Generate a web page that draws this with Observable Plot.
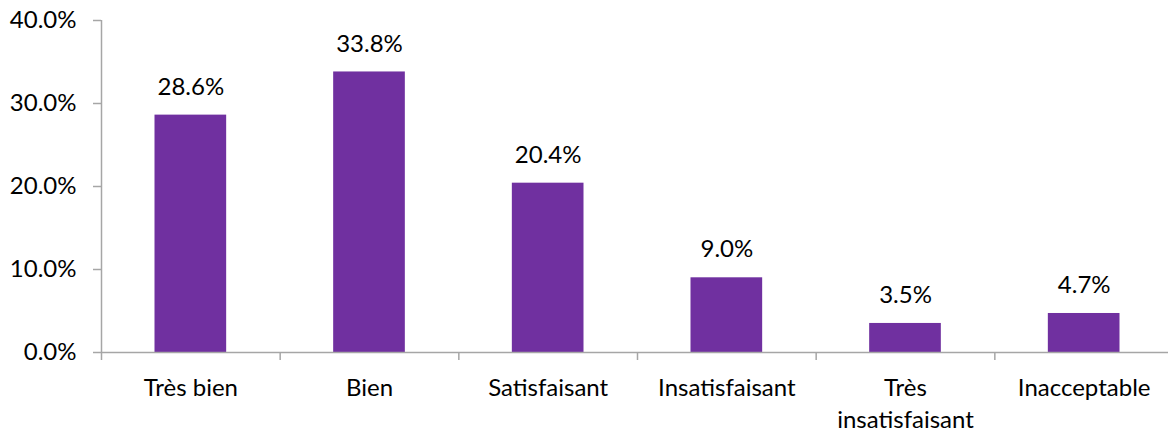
<!DOCTYPE html>
<html>
<head>
<meta charset="utf-8">
<script src="https://cdn.jsdelivr.net/npm/d3@7"></script>
<script src="https://cdn.jsdelivr.net/npm/@observablehq/plot@0.6"></script>
<style>
  html, body { margin: 0; padding: 0; background: #fff; overflow: hidden; }
</style>
</head>
<body>
<div id="chart"></div>
<script>
const categories = ["Très bien", "Bien", "Satisfaisant", "Insatisfaisant", "Très\ninsatisfaisant", "Inacceptable"];
const values = [0.286, 0.338, 0.204, 0.090, 0.035, 0.047];
const yTicks = [0, 0.1, 0.2, 0.3, 0.4];

const data = categories.map((c, i) => ({ category: c, index: i, value: values[i] }));
const boundaries = d3.range(0, categories.length + 1);
const centers = categories.map((c, i) => i + 0.5);

const axisColor = "#a6a6a6";
const fmt = d => (d * 100).toFixed(1) + "%";

const plot = Plot.plot({
  width: 1168,
  height: 432,
  marginLeft: 101,
  marginRight: -5,
  marginTop: 20,
  marginBottom: 80,
  style: { fontFamily: "Lato, 'Open Sans', sans-serif", fontSize: "24px", color: "#000", background: "#fff" },
  x: { domain: [0, categories.length], axis: null, label: null },
  y: { domain: [0, 0.4], axis: null, label: null },
  marks: [
    Plot.rectY(data, { x1: "index", x2: d => d.index + 1, y: "value", fill: "#7030A0", insetLeft: 53.5, insetRight: 53.5 }),
    Plot.ruleY([0], { stroke: axisColor, strokeWidth: 1.5 }),
    Plot.ruleX([0], { y1: 0, y2: 0.4, stroke: axisColor, strokeWidth: 1.5 }),
    Plot.axisY({ ticks: yTicks, tickSize: 8, tickPadding: 17, tickFormat: fmt, stroke: axisColor, strokeWidth: 1.5, fill: "#000", label: null }),
    Plot.axisX({ ticks: boundaries, tickSize: 8, tickFormat: () => "", stroke: axisColor, strokeWidth: 1.5, label: null }),
    Plot.axisX({ ticks: centers, tickSize: 0, tickPadding: 21, tickFormat: (d) => categories[Math.floor(d)], lineHeight: 1.33, fill: "#000", label: null }),
    Plot.text(data, { x: d => d.index + 0.5, y: "value", text: d => fmt(d.value), dy: -28, fill: "#000" })
  ]
});
document.getElementById("chart").appendChild(plot);
</script>
</body>
</html>
